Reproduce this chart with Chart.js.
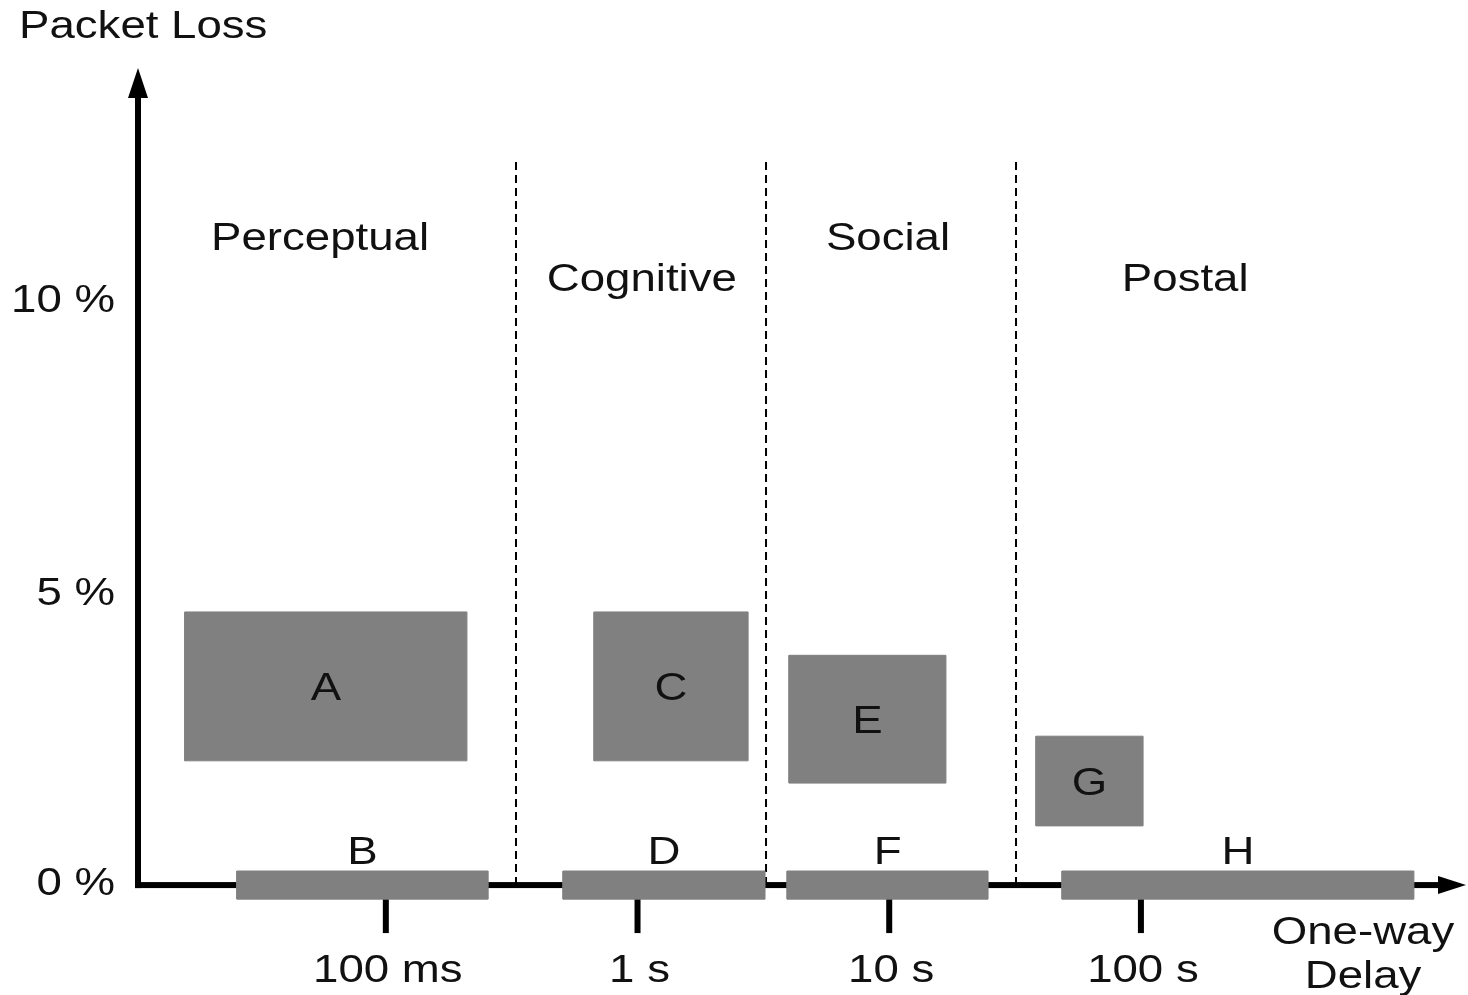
<!DOCTYPE html>
<html>
<head>
<meta charset="utf-8">
<script src="https://cdn.jsdelivr.net/npm/chart.js@4.4.1/dist/chart.umd.min.js"></script>
<style>
  html, body { margin: 0; padding: 0; background: #fff; }
  #wrap { width: 1468px; height: 995px; position: relative; }
</style>
</head>
<body>
<div id="wrap"><canvas id="delay-chart"></canvas></div>
<script>
// boxes above the axis: delay in seconds, packet loss in %
const boxNames = ['A', 'C', 'E', 'G'];
const boxDelayStart = [0.0159, 0.672, 4.0, 38.3];
const boxDelayEnd = [0.210, 2.75, 16.8, 102];
const boxLossLow = [2.12, 2.12, 1.74, 1.01];
const boxLossHigh = [4.66, 4.66, 3.92, 2.54];

// bars lying on the delay axis
const barNames = ['B', 'D', 'F', 'H'];
const barDelayStart = [0.0256, 0.506, 3.93, 48.6];
const barDelayEnd = [0.255, 3.21, 24.7, 1215];

// regions and the dashed borders between them
const regionNames = ['Perceptual', 'Cognitive', 'Social', 'Postal'];
const regionDelay = [0.0548, 1.04, 9.89, 150];
const regionLoss = [11.06, 10.36, 11.06, 10.36];
const regionBorders = [0.329, 3.24, 31.9];
const regionBorderTop = 12.37;

// axis ticks
const delayTicks = [0.1, 1, 10, 100];
const delayTickLabels = ['100 ms', '1 s', '10 s', '100 s'];
const lossTicks = [0, 5, 10];
const lossTickLabels = ['0 %', '5 %', '10 %'];

const GREY = '#808080';
const FONT = '38px "Liberation Sans", Arial, sans-serif';
const BAR_HALF = 0.24; // half thickness of the axis bars, in % units

function rect(x0, x1, y0, y1) {
    return [
        { x: x0, y: y0 }, { x: x1, y: y0 }, { x: x1, y: y1 },
        { x: x0, y: y1 }, { x: x0, y: y0 }
    ];
}

const datasets = [];
boxNames.forEach((name, i) => {
    datasets.push({
        label: name,
        data: rect(boxDelayStart[i], boxDelayEnd[i], boxLossLow[i], boxLossHigh[i]),
        showLine: true, fill: 'shape',
        backgroundColor: GREY, borderColor: GREY, borderWidth: 1, pointRadius: 0
    });
});
barNames.forEach((name, i) => {
    datasets.push({
        label: name,
        data: rect(barDelayStart[i], barDelayEnd[i], -BAR_HALF, BAR_HALF),
        showLine: true, fill: 'shape',
        backgroundColor: GREY, borderColor: GREY, borderWidth: 1, pointRadius: 0
    });
});
regionBorders.forEach(b => {
    datasets.push({
        label: 'border',
        data: [{ x: b, y: 0 }, { x: b, y: regionBorderTop }],
        showLine: true, fill: false,
        borderColor: '#000', borderWidth: 2, borderDash: [8, 5], pointRadius: 0
    });
});

// stretched helvetica-ish text like the original figure
function text(ctx, str, x, y, align) {
    ctx.save();
    ctx.translate(x, y + 3);
    ctx.scale(1.2, 1);
    ctx.font = FONT;
    ctx.fillStyle = '#111';
    ctx.textAlign = align || 'center';
    ctx.textBaseline = 'middle';
    ctx.fillText(str, 0, 0);
    ctx.restore();
}

const decor = {
    id: 'decor',
    beforeDatasetsDraw(chart) {
        const { ctx, chartArea, scales: { x, y } } = chart;
        const y0 = y.getPixelForValue(0);
        const left = chartArea.left;
        ctx.save();
        ctx.fillStyle = '#000';
        // axis lines
        ctx.fillRect(left - 3, chartArea.top + 25, 6, y0 - chartArea.top - 22);
        ctx.fillRect(left - 3, y0 - 3, chartArea.right - left - 20, 6);
        // arrow heads
        ctx.beginPath();
        ctx.moveTo(left, chartArea.top);
        ctx.lineTo(left - 10, chartArea.top + 30);
        ctx.lineTo(left + 10, chartArea.top + 30);
        ctx.closePath();
        ctx.fill();
        ctx.beginPath();
        ctx.moveTo(chartArea.right, y0);
        ctx.lineTo(chartArea.right - 28, y0 - 9);
        ctx.lineTo(chartArea.right - 28, y0 + 9);
        ctx.closePath();
        ctx.fill();
        // tick marks under the axis
        delayTicks.forEach(v => {
            const px = x.getPixelForValue(v);
            ctx.fillRect(px - 3, y0, 6, 48);
        });
        ctx.restore();
    },
    afterDraw(chart) {
        const { ctx, chartArea, scales: { x, y } } = chart;
        const y0 = y.getPixelForValue(0);
        // box letters at box centres
        boxNames.forEach((name, i) => {
            const cx = (x.getPixelForValue(boxDelayStart[i]) + x.getPixelForValue(boxDelayEnd[i])) / 2;
            const cy = (y.getPixelForValue(boxLossLow[i]) + y.getPixelForValue(boxLossHigh[i])) / 2;
            text(ctx, name, cx, cy);
        });
        barNames.forEach((name, i) => {
            const cx = (x.getPixelForValue(barDelayStart[i]) + x.getPixelForValue(barDelayEnd[i])) / 2;
            text(ctx, name, cx, y0 - 35);
        });
        regionNames.forEach((name, i) => {
            text(ctx, name, x.getPixelForValue(regionDelay[i]), y.getPixelForValue(regionLoss[i]));
        });
        delayTicks.forEach((v, i) => {
            text(ctx, delayTickLabels[i], x.getPixelForValue(v) + 2, y0 + 83);
        });
        lossTicks.forEach((v, i) => {
            text(ctx, lossTickLabels[i], chartArea.left - 23, y.getPixelForValue(v) - (v === 0 ? 4 : 0), 'right');
        });
        // axis titles
        text(ctx, 'Packet Loss', 19, 25, 'left');
        text(ctx, 'One-way', 1363, 931);
        text(ctx, 'Delay', 1363, 975);
    }
};

const ctx = document.getElementById('delay-chart').getContext('2d');
new Chart(ctx, {
    type: 'scatter',
    data: { datasets: datasets },
    options: {
        responsive: true,
        maintainAspectRatio: false,
        animation: false,
        layout: { padding: { left: 138, right: 2, top: 68, bottom: 22 } },
        scales: {
            x: { type: 'logarithmic', min: 0.01036, max: 1957, bounds: 'data', display: false },
            y: { type: 'linear', min: -1.5, max: 13.94, display: false }
        },
        elements: { line: { tension: 0 } },
        plugins: {
            legend: { display: false },
            tooltip: { enabled: false }
        }
    },
    plugins: [decor]
});
</script>
</body>
</html>
